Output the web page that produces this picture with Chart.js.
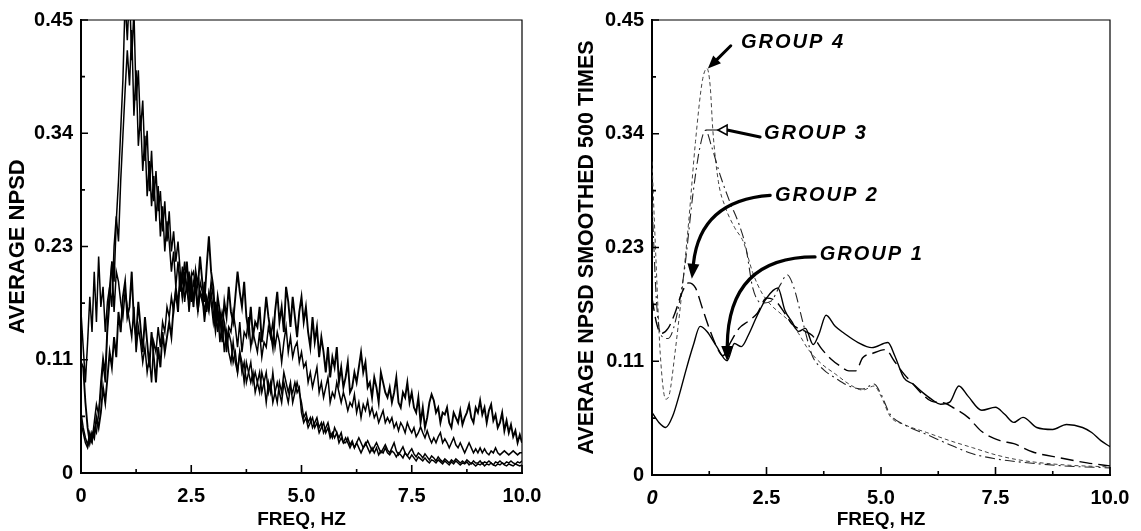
<!DOCTYPE html>
<html>
<head>
<meta charset="utf-8">
<title>Average NPSD</title>
<script src="https://cdn.jsdelivr.net/npm/chart.js@4.4.1/dist/chart.umd.min.js"></script>
<style>
  html, body { margin: 0; padding: 0; background: #fff; }
  #wrap { position: relative; width: 1141px; height: 531px; }
  #rawChart { position: absolute; left: 0; top: 0; }
  #smoothChart { position: absolute; left: 570px; top: 0; }
</style>
</head>
<body>
<div id="wrap">
  <canvas id="rawChart" width="570" height="531"></canvas>
  <canvas id="smoothChart" width="571" height="531"></canvas>
</div>
<script>
// axis ticks
const xTickValues = [0, 2.5, 5, 7.5, 10];
const xTickLabels = ['0', '2.5', '5.0', '7.5', '10.0'];
const xMinorTicks = [1.25, 3.75, 6.25, 8.75];
const yTickValues = [0, 0.1125, 0.225, 0.3375, 0.45];
const yTickLabels = ['0', '0.11', '0.23', '0.34', '0.45'];
const yMinorTicks = [0.05625, 0.16875, 0.28125, 0.39375];

// raw spectra, one value per 0.05 Hz bin (0 .. 10 Hz)
const binHz = 0.05;
const npsdGroup1 = [
  0.11, 0.105, 0.07, 0.045, 0.03, 0.04, 0.035, 0.055, 0.045, 0.06, 0.085, 0.07, 0.095, 0.12, 0.105, 0.135, 0.115, 0.16, 0.14, 0.175,
  0.19, 0.155, 0.165, 0.2, 0.15, 0.135, 0.17, 0.145, 0.12, 0.155, 0.13, 0.105, 0.14, 0.115, 0.09, 0.125, 0.105, 0.14, 0.12, 0.135,
  0.15, 0.135, 0.165, 0.18, 0.16, 0.2, 0.175, 0.19, 0.21, 0.18, 0.195, 0.165, 0.2, 0.185, 0.215, 0.19, 0.17, 0.205, 0.235, 0.2,
  0.185, 0.15, 0.175, 0.16, 0.14, 0.17, 0.155, 0.185, 0.16, 0.15, 0.175, 0.2, 0.18, 0.165, 0.19, 0.155, 0.14, 0.165, 0.135, 0.15,
  0.145, 0.165, 0.13, 0.15, 0.175, 0.155, 0.14, 0.125, 0.16, 0.18, 0.15, 0.165, 0.14, 0.185, 0.17, 0.145, 0.175, 0.155, 0.135, 0.16,
  0.175, 0.15, 0.165, 0.14, 0.125, 0.155, 0.13, 0.145, 0.115, 0.135, 0.12, 0.1, 0.125, 0.095, 0.115, 0.105, 0.125, 0.09, 0.105, 0.085,
  0.095, 0.11, 0.08, 0.085, 0.1, 0.09, 0.105, 0.12, 0.1, 0.11, 0.085, 0.09, 0.075, 0.095, 0.085, 0.07, 0.1, 0.09, 0.08, 0.075,
  0.085, 0.07, 0.08, 0.095, 0.07, 0.065, 0.08, 0.075, 0.09, 0.07, 0.08, 0.065, 0.06, 0.075, 0.05, 0.065, 0.045, 0.055, 0.07, 0.078,
  0.072, 0.06, 0.065, 0.05, 0.06, 0.058, 0.065, 0.05, 0.045, 0.06, 0.055, 0.05, 0.062, 0.048, 0.055, 0.06, 0.068, 0.055, 0.05, 0.065,
  0.06, 0.072, 0.058, 0.065, 0.05, 0.062, 0.068, 0.052, 0.058, 0.045, 0.05, 0.06, 0.042, 0.052, 0.04, 0.048, 0.036, 0.042, 0.03, 0.038, 0.03
];
const npsdGroup2 = [
  0.16, 0.125, 0.09, 0.13, 0.175, 0.14, 0.2, 0.15, 0.215, 0.165, 0.185, 0.14, 0.17, 0.185, 0.21, 0.16, 0.2, 0.19, 0.17, 0.155,
  0.18, 0.165, 0.15, 0.135, 0.165, 0.12, 0.145, 0.13, 0.11, 0.125, 0.1, 0.115, 0.09, 0.13, 0.12, 0.145, 0.125, 0.15, 0.14, 0.165,
  0.155, 0.175, 0.16, 0.185, 0.17, 0.19, 0.175, 0.2, 0.18, 0.17, 0.195, 0.2, 0.185, 0.165, 0.19, 0.18, 0.16, 0.175, 0.165, 0.19,
  0.175, 0.15, 0.165, 0.145, 0.16, 0.15, 0.13, 0.145, 0.14, 0.16, 0.145, 0.125, 0.15, 0.12, 0.14, 0.135, 0.155, 0.125, 0.14, 0.13,
  0.12, 0.14, 0.115, 0.13, 0.125, 0.145, 0.135, 0.15, 0.125, 0.14, 0.13, 0.11, 0.13, 0.145, 0.12, 0.135, 0.115, 0.125, 0.13, 0.11,
  0.12, 0.105, 0.11, 0.09, 0.1, 0.085, 0.095, 0.105, 0.08, 0.09, 0.075, 0.085, 0.095, 0.07, 0.08, 0.075, 0.09, 0.08, 0.07, 0.08,
  0.072, 0.062, 0.07, 0.066, 0.078, 0.06, 0.07, 0.055, 0.068, 0.062, 0.072, 0.058, 0.065, 0.055, 0.06, 0.05, 0.056, 0.062, 0.05, 0.055,
  0.05, 0.055, 0.045, 0.05, 0.042, 0.05, 0.046, 0.04, 0.05, 0.044, 0.04, 0.045, 0.036, 0.04, 0.046, 0.04, 0.035, 0.042, 0.035, 0.03,
  0.035, 0.03, 0.036, 0.04, 0.03, 0.034, 0.03, 0.025, 0.03, 0.035, 0.028, 0.025, 0.03, 0.025, 0.02, 0.025, 0.03, 0.025, 0.02, 0.024,
  0.02, 0.025, 0.02, 0.024, 0.02, 0.018, 0.022, 0.02, 0.025, 0.02, 0.018, 0.02, 0.022, 0.02, 0.018, 0.02, 0.022, 0.02, 0.018, 0.02, 0.02
];
const npsdGroup3 = [
  0.06, 0.045, 0.035, 0.028, 0.04, 0.032, 0.05, 0.068, 0.058, 0.09, 0.115, 0.1, 0.15, 0.185, 0.165, 0.225, 0.255, 0.23, 0.29, 0.335,
  0.38, 0.42, 0.385, 0.44, 0.355, 0.4, 0.325, 0.355, 0.3, 0.335, 0.275, 0.31, 0.265, 0.295, 0.25, 0.285, 0.235, 0.265, 0.22, 0.25,
  0.23, 0.2, 0.22, 0.185, 0.21, 0.18, 0.205, 0.17, 0.19, 0.16, 0.185, 0.17, 0.195, 0.16, 0.18, 0.175, 0.15, 0.17, 0.16, 0.18,
  0.16, 0.14, 0.16, 0.13, 0.15, 0.12, 0.14, 0.12, 0.11, 0.13, 0.11, 0.10, 0.12, 0.10, 0.11, 0.09, 0.10, 0.11, 0.09, 0.10,
  0.09, 0.10, 0.08, 0.09, 0.10, 0.08, 0.09, 0.07, 0.08, 0.09, 0.08, 0.07, 0.09, 0.08, 0.07, 0.085, 0.08, 0.09, 0.08, 0.085,
  0.06, 0.05, 0.055, 0.045, 0.05, 0.055, 0.045, 0.05, 0.04, 0.045, 0.05, 0.04, 0.045, 0.035, 0.04, 0.035, 0.04, 0.03, 0.035, 0.03,
  0.035, 0.03, 0.025, 0.03, 0.025, 0.03, 0.025, 0.02, 0.025, 0.03, 0.025, 0.02, 0.025, 0.02, 0.025, 0.018, 0.022, 0.02, 0.025, 0.02,
  0.018, 0.022, 0.02, 0.016, 0.02, 0.018, 0.015, 0.02, 0.017, 0.014, 0.018, 0.015, 0.012, 0.016, 0.014, 0.012, 0.015, 0.012, 0.01, 0.013,
  0.012, 0.01, 0.013, 0.011, 0.009, 0.012, 0.01, 0.008, 0.011, 0.009, 0.012, 0.01, 0.008, 0.01, 0.009, 0.011, 0.008, 0.01, 0.009, 0.007,
  0.009, 0.008, 0.01, 0.007, 0.009, 0.008, 0.01, 0.008, 0.007, 0.009, 0.008, 0.01, 0.008, 0.007, 0.009, 0.008, 0.007, 0.009, 0.008, 0.007, 0.008
];
const npsdGroup4 = [
  0.05, 0.04, 0.03, 0.025, 0.035, 0.03, 0.045, 0.04, 0.06, 0.08, 0.11, 0.09, 0.14, 0.17, 0.21, 0.19, 0.25, 0.29, 0.34, 0.39,
  0.47, 0.43, 0.48, 0.41, 0.46, 0.37, 0.40, 0.34, 0.37, 0.31, 0.34, 0.28, 0.32, 0.27, 0.30, 0.26, 0.28, 0.24, 0.27, 0.23,
  0.26, 0.22, 0.24, 0.21, 0.23, 0.20, 0.19, 0.21, 0.18, 0.20, 0.17, 0.19, 0.18, 0.16, 0.18, 0.17, 0.19, 0.16, 0.18, 0.17,
  0.15, 0.17, 0.14, 0.16, 0.13, 0.15, 0.12, 0.14, 0.13, 0.11, 0.12, 0.10, 0.12, 0.11, 0.09, 0.11, 0.10, 0.09, 0.10, 0.08,
  0.09, 0.08, 0.10, 0.09, 0.07, 0.09, 0.08, 0.10, 0.08, 0.07, 0.09, 0.08, 0.10, 0.09, 0.08, 0.09, 0.07, 0.08, 0.09, 0.08,
  0.07, 0.055, 0.06, 0.05, 0.055, 0.045, 0.05, 0.055, 0.045, 0.05, 0.04, 0.045, 0.05, 0.04, 0.035, 0.045, 0.04, 0.035, 0.04, 0.03,
  0.03, 0.035, 0.028, 0.032, 0.025, 0.03, 0.035, 0.03, 0.025, 0.028, 0.032, 0.027, 0.022, 0.026, 0.03, 0.025, 0.02, 0.024, 0.028, 0.023,
  0.02, 0.025, 0.03, 0.022, 0.018, 0.022, 0.026, 0.02, 0.017, 0.021, 0.024, 0.019, 0.016, 0.02, 0.018, 0.015, 0.019, 0.016, 0.013, 0.017,
  0.015, 0.012, 0.016, 0.013, 0.011, 0.014, 0.012, 0.01, 0.013, 0.011, 0.014, 0.012, 0.01, 0.012, 0.01, 0.013, 0.011, 0.009, 0.012, 0.01,
  0.01, 0.012, 0.009, 0.011, 0.01, 0.012, 0.01, 0.008, 0.011, 0.01, 0.012, 0.01, 0.009, 0.011, 0.01, 0.012, 0.01, 0.009, 0.011, 0.01, 0.012
];

// smoothed spectra (500 passes), read at the curve's turning points
const smooth1Freq = [0, 0.15, 0.3, 0.45, 0.6, 0.75, 0.9, 1.05, 1.2, 1.4, 1.64, 1.8, 1.95, 2.1, 2.3, 2.5, 2.75, 2.9, 3.05, 3.2, 3.35, 3.52, 3.65, 3.8, 4.0, 4.2, 4.5, 4.8, 5.15, 5.3, 5.5, 5.7, 5.9, 6.1, 6.3, 6.5, 6.7, 6.9, 7.2, 7.5, 7.7, 7.9, 8.1, 8.4, 8.75, 9.05, 9.4, 9.6, 9.8, 10];
const smooth1Npsd = [0.062, 0.052, 0.047, 0.058, 0.08, 0.105, 0.128, 0.147, 0.142, 0.128, 0.113, 0.13, 0.127, 0.138, 0.158, 0.175, 0.185, 0.163, 0.152, 0.142, 0.145, 0.129, 0.14, 0.158, 0.147, 0.14, 0.131, 0.126, 0.131, 0.118, 0.096, 0.09, 0.082, 0.075, 0.07, 0.072, 0.088, 0.078, 0.064, 0.067, 0.06, 0.052, 0.057, 0.047, 0.045, 0.05, 0.047, 0.042, 0.034, 0.028];
const smooth2Freq = [0, 0.1, 0.2, 0.35, 0.5, 0.65, 0.8, 0.95, 1.1, 1.25, 1.4, 1.55, 1.7, 1.9, 2.1, 2.3, 2.5, 2.7, 2.9, 3.06, 3.3, 3.5, 3.7, 3.9, 4.1, 4.3, 4.45, 4.6, 4.8, 5.1, 5.3, 5.5, 5.7, 5.9, 6.1, 6.4, 6.6, 6.9, 7.2, 7.6, 7.9, 8.3, 8.9, 9.5, 10];
const smooth2Npsd = [0.175, 0.15, 0.14, 0.145, 0.16, 0.18, 0.19, 0.185, 0.165, 0.145, 0.128, 0.118, 0.13, 0.145, 0.152, 0.16, 0.175, 0.172, 0.16, 0.149, 0.143, 0.138, 0.125, 0.115, 0.108, 0.103, 0.103, 0.116, 0.12, 0.124, 0.112, 0.1, 0.09, 0.08, 0.073, 0.071, 0.066, 0.057, 0.043, 0.034, 0.031, 0.023, 0.017, 0.012, 0.009];
const smooth3Freq = [0, 0.1, 0.2, 0.35, 0.5, 0.7, 0.9, 1.05, 1.17, 1.3, 1.5, 1.7, 1.9, 2.05, 2.2, 2.4, 2.6, 2.8, 2.95, 3.1, 3.3, 3.5, 3.75, 4.0, 4.3, 4.6, 4.85, 5.0, 5.2, 5.5, 6.0, 6.5, 7.0, 7.5, 8.0, 9.0, 10];
const smooth3Npsd = [0.27, 0.17, 0.138, 0.135, 0.15, 0.2, 0.28, 0.325, 0.341, 0.325, 0.295, 0.27, 0.248, 0.225, 0.185, 0.17, 0.172, 0.188, 0.198, 0.185, 0.15, 0.118, 0.104, 0.096, 0.088, 0.085, 0.09, 0.08, 0.06, 0.05, 0.04, 0.03, 0.021, 0.016, 0.013, 0.009, 0.007];
const smooth4Freq = [0, 0.08, 0.18, 0.3, 0.38, 0.5, 0.65, 0.8, 0.95, 1.1, 1.2, 1.27, 1.33, 1.45, 1.6, 1.8, 2.0, 2.2, 2.4, 2.6, 2.8, 3.0, 3.2, 3.4, 3.7, 4.0, 4.3, 4.6, 4.85, 5.0, 5.2, 5.5, 6.0, 6.5, 7.0, 7.5, 8.0, 9.0, 10];
const smooth4Npsd = [0.31, 0.22, 0.12, 0.075, 0.08, 0.12, 0.18, 0.25, 0.33, 0.39, 0.402, 0.385, 0.34, 0.29, 0.265, 0.245, 0.23, 0.2, 0.18, 0.168, 0.16, 0.152, 0.14, 0.125, 0.11, 0.1, 0.09, 0.084, 0.088, 0.078, 0.058, 0.05, 0.042, 0.034, 0.027, 0.02, 0.015, 0.01, 0.008];

// group call-outs on the smoothed plot, in data units
const noteLabels = [
  { text: 'GROUP 4', at: [1.9, 0.4275] },
  { text: 'GROUP 3', at: [2.4, 0.3382] },
  { text: 'GROUP 2', at: [2.64, 0.2765] },
  { text: 'GROUP 1', at: [3.62, 0.2176] }
];

const FONT = '"Liberation Sans", Arial, Helvetica, sans-serif';
const tickFont = { family: FONT, size: 20, weight: 'bold' };

const toXY = (xs, ys) => ys.map((v, i) => ({ x: xs[i], y: v }));
const rawXY = ys => ys.map((v, i) => ({ x: i * binHz, y: v }));

// inward tick marks + top/right frame
const frameTicks = {
  id: 'frameTicks',
  afterDatasetsDraw(chart) {
    const { ctx, chartArea: a, scales: { x, y } } = chart;
    ctx.save();
    ctx.strokeStyle = '#000';
    ctx.lineWidth = 1.2;
    ctx.beginPath();
    ctx.moveTo(a.left, a.top);
    ctx.lineTo(a.right, a.top);
    ctx.lineTo(a.right, a.bottom);
    ctx.stroke();
    ctx.lineWidth = 1.6;
    ctx.beginPath();
    xTickValues.forEach(v => { const p = x.getPixelForValue(v); ctx.moveTo(p, a.bottom); ctx.lineTo(p, a.bottom - 8); });
    xMinorTicks.forEach(v => { const p = x.getPixelForValue(v); ctx.moveTo(p, a.bottom); ctx.lineTo(p, a.bottom - 4); });
    yTickValues.forEach(v => { const p = y.getPixelForValue(v); ctx.moveTo(a.left, p); ctx.lineTo(a.left + 7, p); });
    yMinorTicks.forEach(v => { const p = y.getPixelForValue(v); ctx.moveTo(a.left, p); ctx.lineTo(a.left + 4, p); });
    ctx.stroke();
    ctx.restore();
  }
};

function arrowHead(ctx, tip, from, len, half, open) {
  const ang = Math.atan2(tip[1] - from[1], tip[0] - from[0]);
  const bx = tip[0] - Math.cos(ang) * len, by = tip[1] - Math.sin(ang) * len;
  ctx.beginPath();
  ctx.moveTo(tip[0], tip[1]);
  ctx.lineTo(bx + Math.sin(ang) * half, by - Math.cos(ang) * half);
  ctx.lineTo(bx - Math.sin(ang) * half, by + Math.cos(ang) * half);
  ctx.closePath();
  if (open) { ctx.fillStyle = '#fff'; ctx.fill(); ctx.lineWidth = 1.5; ctx.stroke(); ctx.fillStyle = '#000'; }
  else ctx.fill();
  return [bx, by];
}

const groupNotes = {
  id: 'groupNotes',
  afterDatasetsDraw(chart) {
    const { ctx, scales: { x, y } } = chart;
    const P = ([fx, fy]) => [x.getPixelForValue(fx), y.getPixelForValue(fy)];
    ctx.save();
    ctx.fillStyle = '#000';
    ctx.strokeStyle = '#000';
    ctx.lineCap = 'round';

    // group 4: straight arrow onto the peak
    const tip = P([1.22, 0.402]), from = P([1.72, 0.4245]);
    const base = arrowHead(ctx, tip, from, 13, 5.5);
    ctx.lineWidth = 3;
    ctx.beginPath(); ctx.moveTo(from[0], from[1]); ctx.lineTo(base[0], base[1]); ctx.stroke();

    // group 3: open head with a thin lead to the curve
    const g3a = P([2.36, 0.3343]), g3b = P([1.64, 0.3412]), g3c = P([1.44, 0.3412]), g3d = P([1.18, 0.3412]);
    ctx.lineWidth = 3;
    ctx.beginPath(); ctx.moveTo(g3a[0], g3a[1]); ctx.lineTo(g3b[0], g3b[1]); ctx.stroke();
    ctx.lineWidth = 1.2;
    ctx.beginPath(); ctx.moveTo(g3c[0], g3c[1]); ctx.lineTo(g3d[0], g3d[1]); ctx.stroke();
    arrowHead(ctx, g3c, g3b, g3b[0] - g3c[0], 5, true);

    // groups 2 and 1: curved arrows
    [[[2.58, 0.2765], [1.05, 0.2716], [0.87, 0.1941]],
     [[3.56, 0.2157], [1.66, 0.2157], [1.64, 0.1127]]].forEach(([s, c, t]) => {
      const ps = P(s), pc = P(c), pt = P(t);
      const b = arrowHead(ctx, pt, pc, 15, 6);
      ctx.lineWidth = 3.2;
      ctx.beginPath();
      ctx.moveTo(ps[0], ps[1]);
      ctx.quadraticCurveTo(pc[0], pc[1], b[0], b[1]);
      ctx.stroke();
    });

    ctx.font = 'italic bold 20px ' + FONT;
    ctx.textBaseline = 'middle';
    if ('letterSpacing' in ctx) ctx.letterSpacing = '2px';
    noteLabels.forEach(n => { const p = P(n.at); ctx.fillText(n.text, p[0] + 2, p[1]); });
    ctx.restore();
  }
};

function axes(yTitle, yTitleSize, yTitlePad, yWidth, xHeight, italicZero) {
  return {
    x: {
      type: 'linear', min: 0, max: 10,
      afterBuildTicks: s => { s.ticks = xTickValues.map(v => ({ value: v })); },
      afterFit: s => { s.height = xHeight; },
      grid: { display: false, drawTicks: false },
      border: { display: true, color: '#000', width: 2 },
      ticks: {
        color: '#000', padding: 11, maxRotation: 0, autoSkip: false,
        font: c => (italicZero && c.index === 0 ? { ...tickFont, style: 'italic' } : tickFont),
        callback: (v, i) => xTickLabels[i]
      },
      title: { display: true, text: 'FREQ, HZ', color: '#000', font: { family: FONT, size: 19, weight: 'bold' }, padding: { top: 0, bottom: 0 } }
    },
    y: {
      type: 'linear', min: 0, max: 0.45,
      afterBuildTicks: s => { s.ticks = yTickValues.map(v => ({ value: v })); },
      afterFit: s => { s.width = yWidth; },
      grid: { display: false, drawTicks: false },
      border: { display: true, color: '#000', width: 2 },
      ticks: { color: '#000', font: tickFont, padding: 8, autoSkip: false, callback: (v, i) => yTickLabels[i] },
      title: { display: true, text: yTitle, color: '#000', font: { family: FONT, size: yTitleSize, weight: 'bold' }, padding: { top: yTitlePad, bottom: 0 } }
    }
  };
}

const common = {
  responsive: false,
  animation: false,
  events: [],
  elements: { point: { radius: 0 }, line: { borderColor: '#000', fill: false } },
  plugins: { legend: { display: false }, tooltip: { enabled: false } }
};

new Chart(document.getElementById('rawChart'), {
  type: 'line',
  data: {
    datasets: [
      { data: rawXY(npsdGroup1), borderWidth: 1.9, tension: 0 },
      { data: rawXY(npsdGroup2), borderWidth: 1.5, tension: 0 },
      { data: rawXY(npsdGroup3), borderWidth: 1.5, tension: 0 },
      { data: rawXY(npsdGroup4), borderWidth: 1.5, tension: 0 }
    ]
  },
  options: {
    ...common,
    layout: { padding: { top: 16, right: 48, bottom: 0, left: 0 } },
    scales: axes('AVERAGE NPSD', 22, 5, 81, 58, false)
  },
  plugins: [frameTicks]
});

new Chart(document.getElementById('smoothChart'), {
  type: 'line',
  data: {
    datasets: [
      { data: toXY(smooth1Freq, smooth1Npsd), borderWidth: 1.4, cubicInterpolationMode: 'monotone' },
      { data: toXY(smooth2Freq, smooth2Npsd), borderWidth: 1.4, borderDash: [13, 6], cubicInterpolationMode: 'monotone' },
      { data: toXY(smooth3Freq, smooth3Npsd), borderWidth: 1.1, borderColor: '#222', borderDash: [10, 4, 2, 4], cubicInterpolationMode: 'monotone' },
      { data: toXY(smooth4Freq, smooth4Npsd), borderWidth: 1, borderColor: '#444', borderDash: [4, 3], cubicInterpolationMode: 'monotone' }
    ]
  },
  options: {
    ...common,
    layout: { padding: { top: 16, right: 31, bottom: 0, left: 0 } },
    scales: axes('AVERAGE NPSD SMOOTHED 500 TIMES', 21.5, 4, 82, 56, true)
  },
  plugins: [frameTicks, groupNotes]
});
</script>
</body>
</html>
